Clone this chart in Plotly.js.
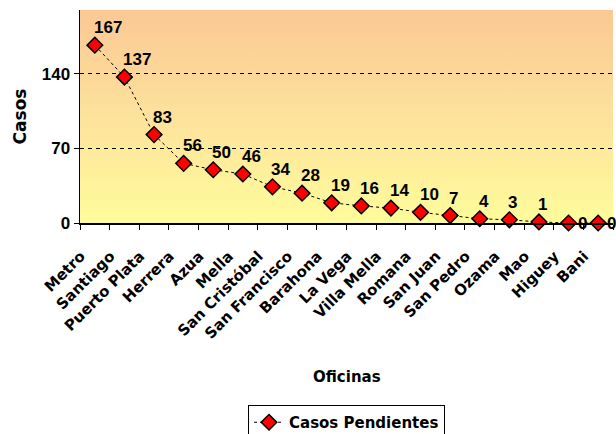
<!DOCTYPE html>
<html>
<head>
<meta charset="utf-8">
<script src="https://cdn.plot.ly/plotly-3.0.1.min.js"></script>
<style>html,body{margin:0;padding:0;background:#fff;}#chart{width:616px;height:434px;}</style>
</head>
<body>
<div id="chart"></div>
<script>
const categories = ["Metro","Santiago","Puerto Plata","Herrera","Azua","Mella","San Cristóbal","San Francisco","Barahona","La Vega","Villa Mella","Romana","San Juan","San Pedro","Ozama","Mao","Higuey","Bani"];
const casosPendientes = [167,137,83,56,50,46,34,28,19,16,14,10,7,4,3,1,0,0];
const yTicks = [0,70,140];
const seriesName = "Casos Pendientes";

const WIDE = "'DejaVu Sans', Verdana, sans-serif";
const NARROW = "'Liberation Sans Narrow', 'Arial Narrow', Arial, sans-serif";
const grad = 'data:image/svg+xml;charset=utf-8,' + encodeURIComponent(
 '<svg xmlns="http://www.w3.org/2000/svg" width="100" height="100" preserveAspectRatio="none">' +
 '<defs><linearGradient id="g" x1="0" y1="0" x2="0" y2="1">' +
 '<stop offset="0" stop-color="#FBC894"/><stop offset="0.5" stop-color="#FDE29C"/><stop offset="1" stop-color="#FFFC9B"/>' +
 '</linearGradient></defs><rect width="100" height="100" fill="url(#g)"/></svg>');

const trace = {
  type: 'scatter', mode: 'lines+markers',
  x: categories, y: casosPendientes, name: seriesName,
  line: {color: '#000', width: 1, dash: '3px,3px'},
  marker: {symbol: 'diamond', size: 12, color: '#FF0000', line: {color: '#000', width: 1.5}},
  cliponaxis: false
};

const n = casosPendientes.length;
const labelAnns = casosPendientes.map((v, i) => {
  const atEnd = i >= n - 2;
  return {
    x: categories[i], y: v, xref: 'x', yref: 'y', text: String(v), showarrow: false,
    xanchor: 'left', yanchor: atEnd ? 'middle' : 'bottom',
    xshift: atEnd ? 7 : -3, yshift: atEnd ? 0 : 6,
    font: {family: NARROW, size: 17, color: '#000', weight: 'bold'}
  };
});

const layout = {
  width: 616, height: 434,
  margin: {l: 80, r: 3, t: 10, b: 211, autoexpand: false},
  paper_bgcolor: '#fff', plot_bgcolor: 'rgba(0,0,0,0)',
  font: {family: WIDE, color: '#000', size: 12, weight: 'bold'},
  showlegend: true,
  images: [{source: grad, xref: 'paper', yref: 'paper', x: 0, y: 1, sizex: 1, sizey: 1, sizing: 'stretch', layer: 'below', xanchor: 'left', yanchor: 'top'}],
  xaxis: {
    type: 'category', range: [-0.5, categories.length - 0.5], automargin: false,
    showline: true, linecolor: '#000', linewidth: 1.5, mirror: false,
    ticks: 'outside', tickson: 'boundaries', ticklen: 5, tickcolor: '#000', tickwidth: 1,
    tickangle: -45, showgrid: false, zeroline: false,
    ticklabelstandoff: 17, ticklabelshift: -14,
    tickfont: {family: WIDE, size: 15, weight: 'bold'}
  },
  yaxis: {
    range: [0, 200], tickvals: yTicks, ticktext: yTicks.map(String), automargin: false,
    showline: true, linecolor: '#000', linewidth: 1.5,
    ticks: 'outside', ticklen: 5, tickcolor: '#000',
    showgrid: true, gridcolor: '#000', gridwidth: 1, griddash: '4px,4px', zeroline: false,
    tickfont: {family: NARROW, size: 17, weight: 'bold'},
    title: {text: 'Casos', font: {family: WIDE, size: 17, weight: 'bold'}, standoff: 11}
  },
  annotations: labelAnns.concat([
    {text: 'Oficinas', xref: 'paper', yref: 'paper', x: 0.5, y: (223 - 377) / 213, xanchor: 'center', yanchor: 'middle', showarrow: false,
     font: {family: WIDE, size: 15, weight: 'bold', color: '#000'}}
  ]),
  legend: {
    orientation: 'h', x: 0.5, xanchor: 'center', yref: 'container', y: (434 - 405) / 434, yanchor: 'top',
    bordercolor: '#000', borderwidth: 1, bgcolor: '#fff',
    font: {family: WIDE, size: 15, weight: 'bold'}
  }
};

Plotly.newPlot('chart', [trace], layout, {displayModeBar: false, staticPlot: true});
</script>
</body>
</html>
